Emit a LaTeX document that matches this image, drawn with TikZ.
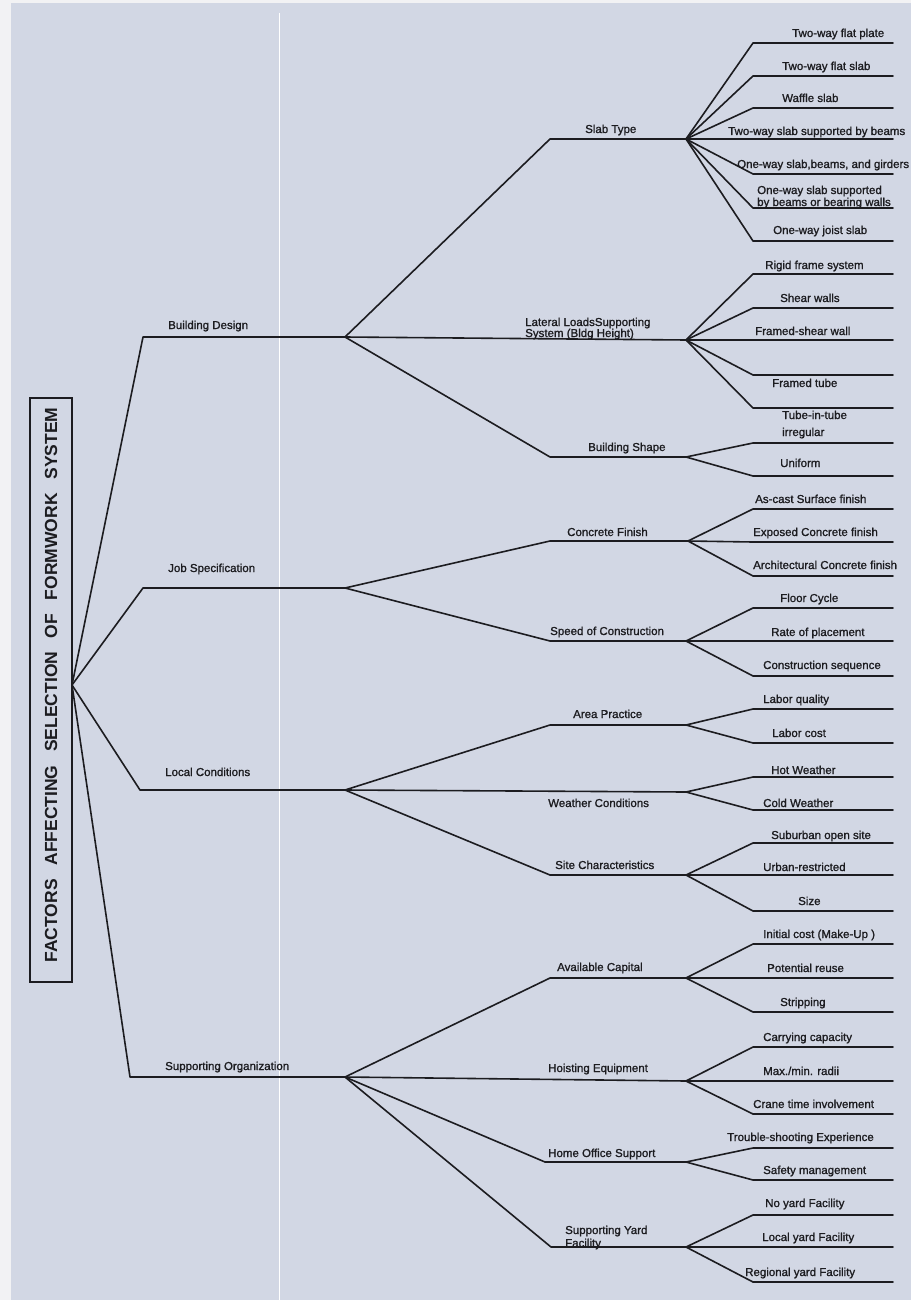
\documentclass[tikz,border=0pt]{standalone}
\usepackage{fontspec}
\setmainfont{Liberation Sans}
\newfontfamily\labelfont[FakeBold=1.2]{Liberation Sans}
\definecolor{paper}{HTML}{D2D7E4}
\definecolor{margin}{HTML}{F2F2F4}
\definecolor{ink}{HTML}{1C1C20}
\begin{document}
\begin{tikzpicture}[x=1pt,y=-1pt,
  branch/.style={draw=ink, line width=1.6pt, line cap=round, line join=round},
  lbl/.style={font=\labelfont\fontsize{11.5}{13}\selectfont, text=ink, inner sep=0pt, anchor=base west},
  titlebox/.style={draw=ink, line width=1.2pt, minimum width=42pt, minimum height=584pt, inner sep=0pt},
]
% sheet and margins
\useasboundingbox (0,0) rectangle (911,1300);
\clip (0,0) rectangle (911,1300);
\fill[margin] (0,0) rectangle (911,1300);
\fill[paper] (11,3) rectangle (911,1300);
\draw[white, line width=0.8pt] (279,13) -- (279,1300);

% root
\node[titlebox] (title) at (51,690) {};
\node[rotate=90, text=ink, inner sep=0pt,
      font=\fontsize{17.5}{20}\selectfont\bfseries] (title-t) at (51,685)
  {FACTORS\hspace{0.5em} AFFECTING\hspace{0.5em} SELECTION\hspace{0.5em} OF\hspace{0.5em} FORMWORK\hspace{0.5em} SYSTEM};
\coordinate (root) at (72,685);

% first level
\coordinate (bd) at (143,337);  \coordinate (bd-e) at (345,337);
\coordinate (js) at (143,588);  \coordinate (js-e) at (345,588);
\coordinate (lc) at (140,790);  \coordinate (lc-e) at (345,790);
\coordinate (so) at (130,1077); \coordinate (so-e) at (345,1077);
\draw[branch] (root) -- (bd) -- (bd-e);
\draw[branch] (root) -- (js) -- (js-e);
\draw[branch] (root) -- (lc) -- (lc-e);
\draw[branch] (root) -- (so) -- (so-e);
\node[lbl] (bd-t) at (168,329) {Building Design};
\node[lbl] (js-t) at (168,572) {Job Specification};
\node[lbl] (lc-t) at (165,776) {Local Conditions};
\node[lbl] (so-t) at (165,1070) {Supporting Organization};

% second level
\coordinate (slab) at (550,139);  \coordinate (slab-e) at (686,139);
\coordinate (lat)  at (550,339);  \coordinate (lat-e)  at (686,340);
\coordinate (shp)  at (550,457);  \coordinate (shp-e)  at (686,457);
\draw[branch] (bd-e) -- (slab) -- (slab-e);
\draw[branch] (bd-e) -- (lat-e);
\draw[branch] (bd-e) -- (shp) -- (shp-e);
\node[lbl] (slab-t) at (585,133) {Slab Type};
\node[lbl] (lat-t1) at (525,326) {Lateral LoadsSupporting};
\node[lbl] (lat-t2) at (525,337) {System (Bldg Height)};
\node[lbl] (shp-t)  at (588,451) {Building Shape};

\coordinate (cf) at (550,541); \coordinate (cf-e) at (688,541);
\coordinate (sp) at (550,641); \coordinate (sp-e) at (686,641);
\draw[branch] (js-e) -- (cf) -- (cf-e);
\draw[branch] (js-e) -- (sp) -- (sp-e);
\node[lbl] (cf-t) at (567,536) {Concrete Finish};
\node[lbl] (sp-t) at (550,635) {Speed of Construction};

\coordinate (ap) at (550,725); \coordinate (ap-e) at (686,725);
\coordinate (wc) at (550,791); \coordinate (wc-e) at (686,792);
\coordinate (sc) at (550,875); \coordinate (sc-e) at (686,875);
\draw[branch] (lc-e) -- (ap) -- (ap-e);
\draw[branch] (lc-e) -- (wc-e);
\draw[branch] (lc-e) -- (sc) -- (sc-e);
\node[lbl] (ap-t) at (573,718) {Area Practice};
\node[lbl] (wc-t) at (548,807) {Weather Conditions};
\node[lbl] (sc-t) at (555,869) {Site Characteristics};

\coordinate (ac) at (550,978);  \coordinate (ac-e) at (686,978);
\coordinate (he) at (550,1079); \coordinate (he-e) at (686,1081);
\coordinate (ho) at (545,1162); \coordinate (ho-e) at (686,1162);
\coordinate (yf) at (551,1247); \coordinate (yf-e) at (686,1247);
\draw[branch] (so-e) -- (ac) -- (ac-e);
\draw[branch] (so-e) -- (he-e);
\draw[branch] (so-e) -- (ho) -- (ho-e);
\draw[branch] (so-e) -- (yf) -- (yf-e);
\node[lbl] (ac-t)  at (557,971)  {Available Capital};
\node[lbl] (he-t)  at (548,1072) {Hoisting Equipment};
\node[lbl] (ho-t)  at (548,1157) {Home Office Support};
\node[lbl] (yf-t1) at (565,1234) {Supporting Yard};
\node[lbl] (yf-t2) at (565,1247) {Facility};

% third level: parent / line y / label x / label y / text
\foreach \p/\yl/\xt/\yt/\txt [count=\i] in {
  slab/43/792/37/{Two-way flat plate},
  slab/76/782/70/{Two-way flat slab},
  slab/108/782/102/{Waffle slab},
  slab/139/728/135/{Two-way slab supported by beams},
  slab/174/737/168/{One-way slab,beams, and girders},
  slab/208/757/206/{by beams or bearing walls},
  slab/241/773/234/{One-way joist slab},
  lat/274/765/269/{Rigid frame system},
  lat/308/780/302/{Shear walls},
  lat/340/755/335/{Framed-shear wall},
  lat/375/772/387/{Framed tube},
  lat/408/782/419/{Tube-in-tube},
  shp/443/782/436/{irregular},
  shp/476/780/467/{Uniform},
  cf/509/755/503/{As-cast Surface finish},
  cf/542/753/536/{Exposed Concrete finish},
  cf/576/753/569/{Architectural Concrete finish},
  sp/608/780/602/{Floor Cycle},
  sp/641/771/636/{Rate of placement},
  sp/676/763/669/{Construction sequence},
  ap/709/763/703/{Labor quality},
  ap/743/772/737/{Labor cost},
  wc/777/771/774/{Hot Weather},
  wc/810/763/807/{Cold Weather},
  sc/843/771/839/{Suburban open site},
  sc/875/763/871/{Urban-restricted},
  sc/911/798/905/{Size},
  ac/944/763/938/{Initial cost (Make-Up )},
  ac/978/767/972/{Potential reuse},
  ac/1012/780/1006/{Stripping},
  he/1047/763/1041/{Carrying capacity},
  he/1081/763/1075/{Max./min. radii},
  he/1114/753/1108/{Crane time involvement},
  ho/1148/727/1141/{Trouble-shooting Experience},
  ho/1180/763/1174/{Safety management},
  yf/1215/765/1207/{No yard Facility},
  yf/1247/762/1241/{Local yard Facility},
  yf/1282/745/1276/{Regional yard Facility}} {
  \coordinate (leaf-\i) at (753,\yl);
  \coordinate (leaf-\i-e) at (893,\yl);
  \draw[branch] (\p-e) -- (leaf-\i) -- (leaf-\i-e);
  \node[lbl] (leaf-\i-t) at (\xt,\yt) {\txt};
}
\node[lbl] (leaf-6-t0) at (757,194) {One-way slab supported};
\end{tikzpicture}
\end{document}
